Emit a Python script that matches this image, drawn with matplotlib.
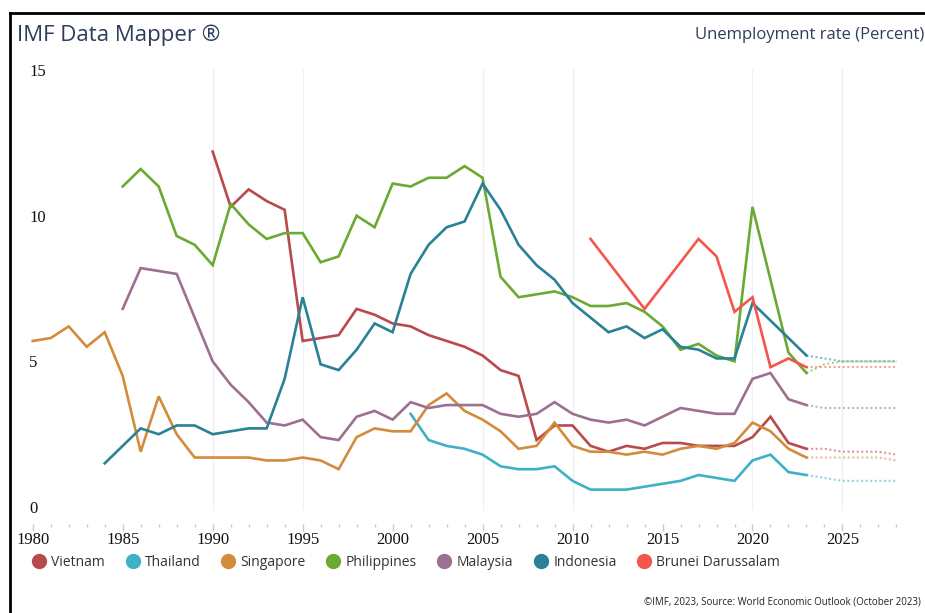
import matplotlib
matplotlib.use('Agg')
import matplotlib.pyplot as plt
from matplotlib.lines import Line2D

# Unemployment rate (percent)
vietnam_years = list(range(1990, 2024))
vietnam = [12.2, 10.3, 10.9, 10.5, 10.2, 5.7, 5.8, 5.9, 6.8, 6.6,
           6.3, 6.2, 5.9, 5.7, 5.5, 5.2, 4.7, 4.5, 2.3, 2.8,
           2.8, 2.1, 1.9, 2.1, 2.0, 2.2, 2.2, 2.1, 2.1, 2.1,
           2.4, 3.1, 2.2, 2.0]

thailand_years = list(range(2001, 2024))
thailand = [3.2, 2.3, 2.1, 2.0, 1.8, 1.4, 1.3, 1.3, 1.4, 0.9,
            0.6, 0.6, 0.6, 0.7, 0.8, 0.9, 1.1, 1.0, 0.9, 1.6,
            1.8, 1.2, 1.1]

singapore_years = list(range(1980, 2024))
singapore = [5.7, 5.8, 6.2, 5.5, 6.0, 4.5, 1.9, 3.8, 2.5, 1.7,
             1.7, 1.7, 1.7, 1.6, 1.6, 1.7, 1.6, 1.3, 2.4, 2.7,
             2.6, 2.6, 3.5, 3.9, 3.3, 3.0, 2.6, 2.0, 2.1, 2.9,
             2.1, 1.9, 1.9, 1.8, 1.9, 1.8, 2.0, 2.1, 2.0, 2.2,
             2.9, 2.6, 2.0, 1.7]

philippines_years = list(range(1985, 2024))
philippines = [11.0, 11.6, 11.0, 9.3, 9.0, 8.3, 10.4, 9.7, 9.2, 9.4,
               9.4, 8.4, 8.6, 10.0, 9.6, 11.1, 11.0, 11.3, 11.3, 11.7,
               11.3, 7.9, 7.2, 7.3, 7.4, 7.2, 6.9, 6.9, 7.0, 6.7,
               6.2, 5.4, 5.6, 5.2, 5.0, 10.3, 7.8, 5.3, 4.6]

malaysia_years = list(range(1985, 2024))
malaysia = [6.8, 8.2, 8.1, 8.0, 6.5, 5.0, 4.2, 3.6, 2.9, 2.8,
            3.0, 2.4, 2.3, 3.1, 3.3, 3.0, 3.6, 3.4, 3.5, 3.5,
            3.5, 3.2, 3.1, 3.2, 3.6, 3.2, 3.0, 2.9, 3.0, 2.8,
            3.1, 3.4, 3.3, 3.2, 3.2, 4.4, 4.6, 3.7, 3.5]

indonesia_years = list(range(1984, 2024))
indonesia = [1.5, 2.1, 2.7, 2.5, 2.8, 2.8, 2.5, 2.6, 2.7, 2.7,
             4.4, 7.2, 4.9, 4.7, 5.4, 6.3, 6.0, 8.0, 9.0, 9.6,
             9.8, 11.1, 10.2, 9.0, 8.3, 7.8, 7.0, 6.5, 6.0, 6.2,
             5.8, 6.1, 5.5, 5.4, 5.1, 5.1, 7.0, 6.4, 5.8, 5.2]

brunei_years = [2011, 2014, 2017, 2018, 2019, 2020, 2021, 2022, 2023]
brunei = [9.2, 6.8, 9.2, 8.6, 6.7, 7.2, 4.8, 5.1, 4.8]

# IMF projections (dotted)
proj_years = list(range(2023, 2029))
vietnam_proj = [2.0, 2.0, 1.9, 1.9, 1.9, 1.8]
thailand_proj = [1.1, 1.0, 0.9, 0.9, 0.9, 0.9]
singapore_proj = [1.7, 1.7, 1.7, 1.7, 1.7, 1.6]
philippines_proj = [4.6, 4.9, 5.0, 5.0, 5.0, 5.0]
malaysia_proj = [3.5, 3.4, 3.4, 3.4, 3.4, 3.4]
indonesia_proj = [5.2, 5.1, 5.0, 5.0, 5.0, 5.0]
brunei_proj = [4.8, 4.8, 4.8, 4.8, 4.8, 4.8]

series = [
    ('Vietnam', vietnam_years, vietnam, vietnam_proj, '#b94a4c'),
    ('Thailand', thailand_years, thailand, thailand_proj, '#3fb1c6'),
    ('Singapore', singapore_years, singapore, singapore_proj, '#d38b3c'),
    ('Philippines', philippines_years, philippines, philippines_proj, '#6aaa33'),
    ('Malaysia', malaysia_years, malaysia, malaysia_proj, '#9b7090'),
    ('Indonesia', indonesia_years, indonesia, indonesia_proj, '#2a8196'),
    ('Brunei Darussalam', brunei_years, brunei, brunei_proj, '#f5554a'),
]

title_color = '#2e3d5b'
sans = ['Open Sans', 'DejaVu Sans']
serif = ['Liberation Serif', 'DejaVu Serif']

fig = plt.figure(figsize=(9.25, 6.13), dpi=100)
ax = fig.add_axes([0.0237, 0.1452, 0.961, 0.7422])

# very light vertical grid
ax.vlines([1990, 1995, 2005, 2010, 2020, 2025], -0.1, 15.03,
          color='#f0f0f4', lw=1, zorder=0)

for name, yrs, vals, proj, col in series:
    ax.plot(yrs, vals, color=col, lw=1.9, solid_joinstyle='miter', zorder=3)
    ax.plot(proj_years, proj, color=col, lw=1.5, alpha=0.55,
            linestyle=(0, (1, 1.2)), zorder=2)

ax.set_xlim(1979.4, 2028.8)
ax.set_ylim(-0.58, 15.03)
ax.set_xticks(range(1980, 2030, 5))
ax.set_xticks(range(1980, 2029), minor=True)
ax.set_yticks([0, 5, 10, 15])

for s in ax.spines.values():
    s.set_visible(False)

ax.tick_params(axis='x', which='major', length=5, width=1, color='#c8c8d2',
               pad=1, labelsize=12)
ax.tick_params(axis='x', which='minor', length=2.5, width=1, color='#c8c8d2')
ax.tick_params(axis='y', length=0, pad=-5.1, labelsize=12)
for lab in ax.get_xticklabels() + ax.get_yticklabels():
    lab.set_fontfamily(serif)
    lab.set_color('#111111')
for lab in ax.get_yticklabels():
    lab.set_horizontalalignment('left')

# frame of the screenshot
fig.add_artist(Line2D([10 / 925, 10 / 925], [0, 1 - 12.7 / 613],
                      color='black', lw=2, solid_capstyle='projecting'))
fig.add_artist(Line2D([10 / 925, 1], [1 - 12.7 / 613, 1 - 12.7 / 613],
                      color='black', lw=2, solid_capstyle='projecting'))

fig.text(17 / 925, 1 - 35 / 613, 'IMF Data Mapper ®', fontsize=16,
         family=sans, color=title_color, va='center', ha='left')
fig.text(695 / 925, 1 - 35 / 613, 'Unemployment rate (Percent)', fontsize=12,
         family=sans, color=title_color, va='center', ha='left')
fig.text(921 / 925, 1 - 602 / 613,
         '©IMF, 2023, Source: World Economic Outlook (October 2023)',
         fontsize=7, family=sans, color='#222222', va='center', ha='right')

handles = [Line2D([], [], marker='o', linestyle='none', markersize=10,
                  markerfacecolor=col, markeredgecolor=col)
           for _, _, _, _, col in series]
labels = [name for name, *_ in series]
fig.legend(handles, labels, loc='center left',
           bbox_to_anchor=(0.0346, 1 - 562.7 / 613), ncol=7, frameon=False,
           handlelength=1.0, handletextpad=0.4, columnspacing=1.47,
           borderpad=0, borderaxespad=0,
           prop={'family': sans, 'size': 10}, labelcolor='#333333')

plt.savefig('out.png', dpi=100)
